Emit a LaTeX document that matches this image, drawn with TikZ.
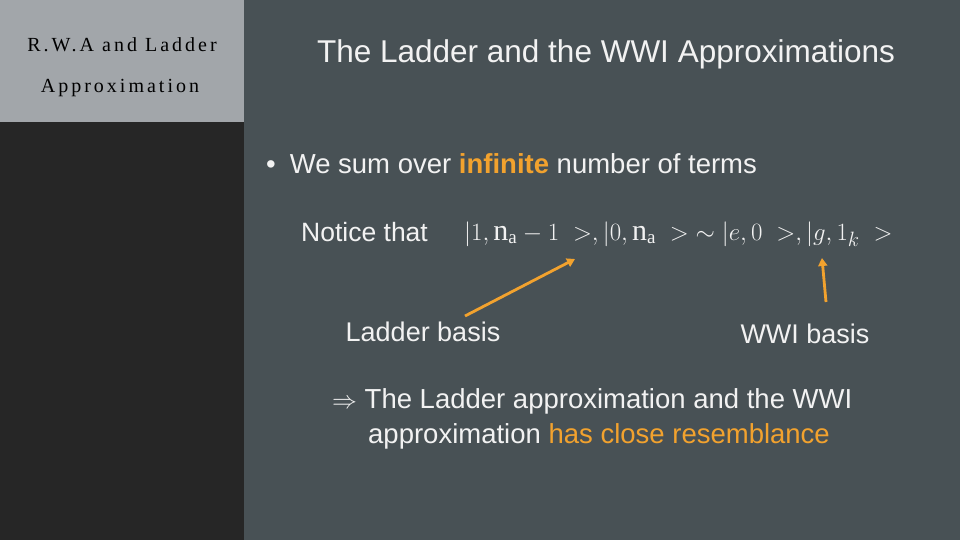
\documentclass[tikz,border=0pt]{standalone}
\usepackage{fontspec}
\setmainfont{Liberation Sans}
\newfontfamily\serifx[LetterSpace=15]{Liberation Serif}
\newfontfamily\serify{Liberation Serif}
\usetikzlibrary{arrows.meta}
\definecolor{bgmain}{HTML}{485155}
\definecolor{bgleft}{HTML}{262626}
\definecolor{bgtop}{HTML}{A2A6AA}
\definecolor{orng}{HTML}{F2A22E}
\definecolor{txt}{HTML}{F2F2F2}
\newcommand{\na}{\mbox{\serify n}_{\mbox{\serify\fontsize{19}{21}\selectfont a}}}
\tikzset{txtnode/.style={text=txt,inner sep=0pt},
 arr/.style={draw=orng,line width=2.8pt,-{Triangle[length=8pt,width=9pt]}}}
\begin{document}
\begin{tikzpicture}[x=1pt,y=-1pt]
\fill[bgmain] (0,0) rectangle (960,540);
\fill[bgleft] (0,122) rectangle (244,540);
\fill[bgtop] (0,0) rectangle (244,122);
\node[inner sep=0pt,text=black,font=\serifx\fontsize{20}{24}\selectfont] (h1) at (122,45) {R.W.A and Ladder};
\node[inner sep=0pt,text=black,font=\serifx\fontsize{20}{24}\selectfont] (h2) at (120,88) {Approximation};
\node[txtnode,font=\fontsize{31.5}{36}\selectfont] (t) at (606,54) {The Ladder and the WWI Approximations};
\node[txtnode,anchor=west,font=\fontsize{27.5}{32}\selectfont] (b) at (266,164) {•\hspace{14pt}We sum over \textcolor{orng}{\textbf{infinite}} number of terms};
\node[txtnode,anchor=west,font=\fontsize{26.5}{30}\selectfont] (n) at (301,232) {Notice that};
\node[txtnode,anchor=west,font=\fontsize{30}{34}\selectfont] (m) at (464,234) {$|1,\na-1\;>,|0,\na\;>\;\sim|e,0\;>,|g,1_k\;>$};
\node[txtnode,font=\fontsize{27}{30}\selectfont] (lb) at (423,332) {Ladder basis};
\node[txtnode,font=\fontsize{27}{30}\selectfont] (wb) at (805,334) {WWI basis};
\coordinate (a1) at (575,259);
\coordinate (a2) at (822,258);
\coordinate (s1) at (465,316);
\coordinate (s2) at (826,302);
\draw[arr] (s1) -- (a1);
\draw[arr] (s2) -- (a2);
\node[txtnode,anchor=west,font=\fontsize{27.5}{32}\selectfont] (c1) at (332,401) {$\Rightarrow$ The Ladder approximation and the WWI};
\node[txtnode,anchor=west,font=\fontsize{27.5}{32}\selectfont] (c2) at (368,436) {approximation \textcolor{orng}{has close resemblance}};
\end{tikzpicture}
\end{document}
